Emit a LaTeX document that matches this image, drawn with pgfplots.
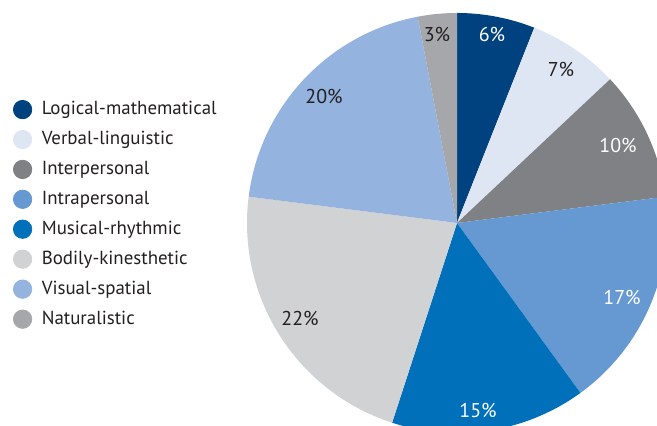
\documentclass[border=0pt]{standalone}
\usepackage{pgfplots}
\usepackage{pgfplotstable}
\pgfplotsset{compat=1.18}
\usepackage{fontspec}
\setmainfont{PT Sans}
\definecolor{cA}{HTML}{00427F}
\definecolor{cB}{HTML}{DEE6F4}
\definecolor{cC}{HTML}{808185}
\definecolor{cD}{HTML}{6699D2}
\definecolor{cE}{HTML}{0070BA}
\definecolor{cF}{HTML}{D1D2D4}
\definecolor{cG}{HTML}{94B4DF}
\definecolor{cH}{HTML}{A6A7AB}
\definecolor{txtdark}{HTML}{231F20}
\pgfplotstableread[col sep=comma]{
name,val,col,txt,lx,ly
Logical-mathematical,6,cA,white,492,391
Verbal-linguistic,7,cB,txtdark,561,356
Interpersonal,10,cC,white,618,280
Intrapersonal,17,cD,white,622,129
Musical-rhythmic,15,cE,white,478,16
Bodily-kinesthetic,22,cF,txtdark,300,108
Visual-spatial,20,cG,txtdark,324,329
Naturalistic,3,cH,txtdark,437,391
}\piedata
\begin{document}
\begin{tikzpicture}
\xdef\cum{0}
\foreach \i in {0,...,7}{%
  \pgfplotstablegetelem{\i}{val}\of\piedata\let\v\pgfplotsretval
  \pgfmathsetmacro\sa{90-3.6*\cum}%
  \pgfmathsetmacro\ea{90-3.6*(\cum+\v)}%
  \pgfmathsetmacro\nc{\cum+\v}%
  \expandafter\xdef\csname sa\i\endcsname{\sa}%
  \expandafter\xdef\csname ea\i\endcsname{\ea}%
  \expandafter\xdef\csname vv\i\endcsname{\v}%
  \xdef\cum{\nc}%
  \pgfplotstablegetelem{\i}{col}\of\piedata
  \expandafter\xdef\csname cc\i\endcsname{\pgfplotsretval}%
  \pgfplotstablegetelem{\i}{txt}\of\piedata
  \expandafter\xdef\csname tc\i\endcsname{\pgfplotsretval}%
  \pgfplotstablegetelem{\i}{lx}\of\piedata
  \expandafter\xdef\csname lx\i\endcsname{\pgfplotsretval}%
  \pgfplotstablegetelem{\i}{ly}\of\piedata
  \expandafter\xdef\csname ly\i\endcsname{\pgfplotsretval}%
  \pgfplotstablegetelem{\i}{name}\of\piedata
  \expandafter\xdef\csname nm\i\endcsname{\pgfplotsretval}%
}
\begin{axis}[
  scale only axis, width=328.5pt, height=213pt,
  xmin=0, xmax=657, ymin=0, ymax=426,
  hide axis, clip=true,
  legend cell align=left,
  legend style={at={(axis cs:7,333)}, anchor=north west, draw=none, fill=none,
    font=\fontsize{9.45}{11}\selectfont\color{txtdark}, row sep=2.8pt,
    column sep=3pt, nodes={inner xsep=2pt}},
]
\coordinate (BL) at (rel axis cs:0,0);
\coordinate (TR) at (rel axis cs:1,1);
\pgfplotsinvokeforeach{0,...,7}{
  \fill[\csname cc#1\endcsname] (axis cs:457,203) -- ++(\csname sa#1\endcsname:105pt)
    arc[start angle=\csname sa#1\endcsname, end angle=\csname ea#1\endcsname, radius=105pt] -- cycle;
  \node[text=\csname tc#1\endcsname, font=\fontsize{10}{12}\selectfont]
    at (axis cs:\csname lx#1\endcsname,\csname ly#1\endcsname) {\csname vv#1\endcsname\%};
  \addlegendimage{only marks, mark=*, mark size=4.6pt, color=\csname cc#1\endcsname}
  \addlegendentry{\csname nm#1\endcsname}
}
\end{axis}
\pgfresetboundingbox
\path[use as bounding box] (BL) rectangle (TR);
\end{tikzpicture}
\end{document}
